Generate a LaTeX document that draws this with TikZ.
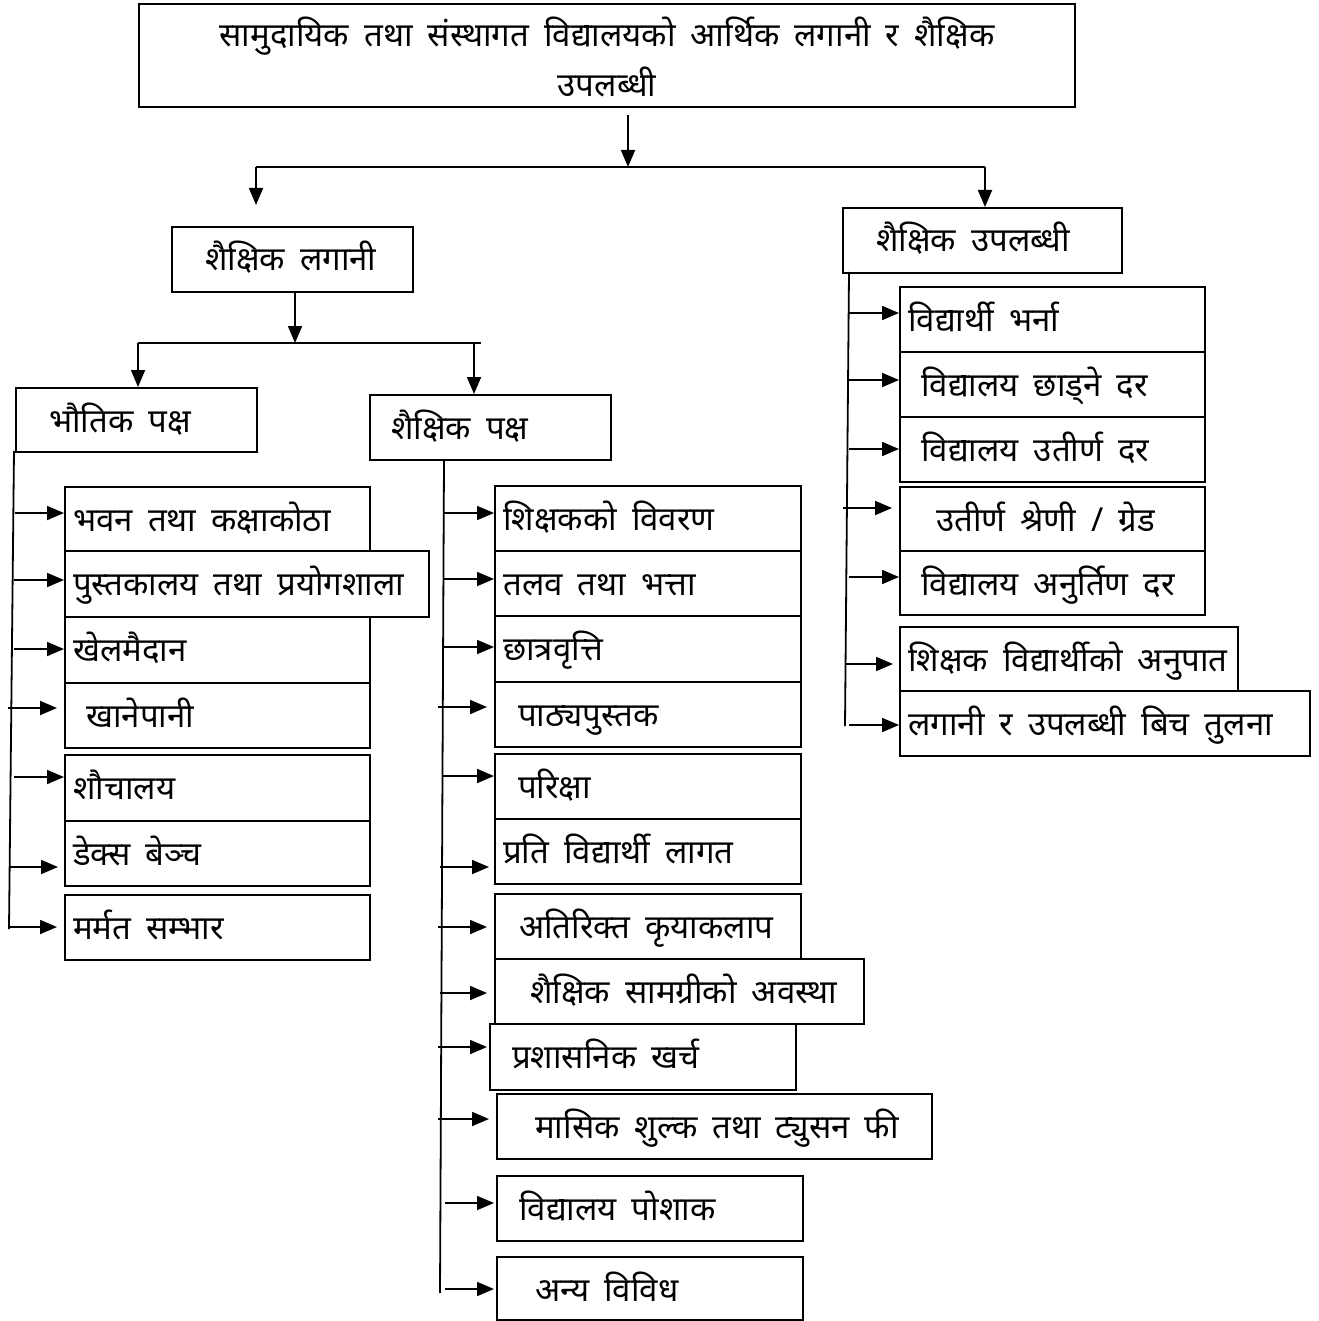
\documentclass[tikz,border=0pt]{standalone}
\usepackage{fontspec}
\usetikzlibrary{arrows.meta}
\newfontfamily\dev[Script=Devanagari]{Noto Sans}
\newcommand\devfont{\dev\fontsize{33}{38}\selectfont\spaceskip=15pt\relax}
\newcommand\bx[7]{%
  \node[bxs, minimum width={(#4-#2)*1pt}, minimum height={(#5-#3)*1pt}] (#1) at (#2,#3) {};
  \node[txt] (#1t) at (#2+#6,#3+45) {#7};}
\begin{document}
\begin{tikzpicture}[x=1pt,y=-1pt,
  bxs/.style={draw, line width=1.8pt, anchor=north west, inner sep=0pt},
  txt/.style={anchor=base west, inner sep=0pt, font=\devfont},
  ln/.style={line width=1.8pt},
  arr/.style={line width=1.8pt, -{Triangle[length=17pt,width=14pt]}}]
\useasboundingbox (0,0) rectangle (1318,1321);
% top
\node[bxs, minimum width=936pt, minimum height=103pt] (top) at (138,3) {};
\node[txt, anchor=base] (topa) at (607,47) {सामुदायिक तथा संस्थागत विद्यालयको आर्थिक लगानी र शैक्षिक};
\node[txt, anchor=base] (topb) at (607,97) {उपलब्धी};
\coordinate (j0) at (628,167);
\coordinate (jl) at (256,167);
\coordinate (jr) at (985,167);
\coordinate (jle) at (256,205);
\draw[arr] (top.south -| j0) ++(0,7) -- (j0);
\draw[ln] (jl) -- (jr);
\draw[arr] (jl) -- (jle);
% level 2
\bx{lag}{171}{226}{412}{291}{34}{शैक्षिक लगानी}
\bx{upl}{842}{207}{1121}{272}{34}{शैक्षिक उपलब्धी}
\draw[arr] (jr) -- (upl.north -| jr);
\coordinate (k0) at (295,343);
\coordinate (kl) at (138,343);
\coordinate (kr) at (481,343);
\coordinate (km) at (474,343);
\draw[arr] (lag.south -| k0) -- (k0);
\draw[ln] (kl) -- (kr);
% level 3
\bx{bho}{15}{387}{256}{451}{34}{भौतिक पक्ष}
\bx{shk}{369}{394}{610}{459}{22}{शैक्षिक पक्ष}
\draw[arr] (kl) -- (bho.north -| kl);
\draw[arr] (km) -- (shk.north -| km);
% left column
\bx{a1}{64}{486}{369}{550}{9}{भवन तथा कक्षाकोठा}
\bx{a2}{64}{550}{428}{616}{9}{पुस्तकालय तथा प्रयोगशाला}
\bx{a3}{64}{616}{369}{682}{9}{खेलमैदान}
\bx{a4}{64}{682}{369}{747}{22}{खानेपानी}
\bx{a5}{64}{754}{369}{820}{9}{शौचालय}
\bx{a6}{64}{820}{369}{885}{9}{डेक्स बेञ्च}
\bx{a7}{64}{894}{369}{959}{9}{मर्मत सम्भार}
\coordinate (lt) at (14,451);
\coordinate (lb) at (9,929);
\draw[ln] (lt) -- (lb);
\coordinate (la1) at (15,513);
\coordinate (la2) at (14,580);
\coordinate (la3) at (14,649);
\coordinate (la4) at (8,708);
\coordinate (la5) at (14,777);
\coordinate (la6) at (10,867);
\coordinate (la7) at (8,927);
\draw[arr] (la1) -- (a1.west |- la1);
\draw[arr] (la2) -- (a2.west |- la2);
\draw[arr] (la3) -- (a3.west |- la3);
\draw[arr, shorten >=7pt] (la4) -- (a4.west |- la4);
\draw[arr] (la5) -- (a5.west |- la5);
\draw[arr, shorten >=6pt] (la6) -- (a6.west |- la6);
\draw[arr, shorten >=7pt] (la7) -- (a7.west |- la7);
% middle column
\bx{b1}{494}{485}{800}{550}{9}{शिक्षकको विवरण}
\bx{b2}{494}{550}{800}{615}{9}{तलव तथा भत्ता}
\bx{b3}{494}{615}{800}{681}{9}{छात्रवृत्ति}
\bx{b4}{494}{681}{800}{746}{24}{पाठ्यपुस्तक}
\bx{b5}{494}{753}{800}{818}{24}{परिक्षा}
\bx{b6}{494}{818}{800}{883}{9}{प्रति विद्यार्थी लागत}
\bx{b7}{494}{893}{800}{958}{25}{अतिरिक्त कृयाकलाप}
\bx{b8}{494}{958}{863}{1023}{36}{शैक्षिक सामग्रीको अवस्था}
\bx{b9}{489}{1023}{795}{1089}{23}{प्रशासनिक खर्च}
\bx{b10}{496}{1093}{931}{1158}{39}{मासिक शुल्क तथा ट्युसन फी}
\bx{b11}{496}{1175}{802}{1240}{23}{विद्यालय पोशाक}
\bx{b12}{496}{1256}{802}{1319}{39}{अन्य विविध}
\coordinate (mt) at (444,459);
\coordinate (mb) at (440,1293);
\draw[ln] (mt) -- (mb);
\coordinate (mb1) at (444,513);
\coordinate (mb2) at (444,579);
\coordinate (mb3) at (444,647);
\coordinate (mb4) at (438,707);
\coordinate (mb5) at (443,776);
\coordinate (mb6) at (440,867);
\coordinate (mb7) at (438,927);
\coordinate (mb8) at (440,993);
\coordinate (mb9) at (438,1047);
\coordinate (mb10) at (438,1119);
\coordinate (mb11) at (445,1203);
\coordinate (mb12) at (445,1289);
\draw[arr] (mb1) -- (b1.west |- mb1);
\draw[arr] (mb2) -- (b2.west |- mb2);
\draw[arr] (mb3) -- (b3.west |- mb3);
\draw[arr, shorten >=7pt] (mb4) -- (b4.west |- mb4);
\draw[arr] (mb5) -- (b5.west |- mb5);
\draw[arr, shorten >=5pt] (mb6) -- (b6.west |- mb6);
\draw[arr, shorten >=7pt] (mb7) -- (b7.west |- mb7);
\draw[arr, shorten >=7pt] (mb8) -- (b8.west |- mb8);
\draw[arr, shorten >=2pt] (mb9) -- (b9.west |- mb9);
\draw[arr, shorten >=7pt] (mb10) -- (b10.west |- mb10);
\draw[arr, shorten >=2pt] (mb11) -- (b11.west |- mb11);
\draw[arr, shorten >=2pt] (mb12) -- (b12.west |- mb12);
% right column
\bx{c1}{899}{286}{1204}{351}{9}{विद्यार्थी भर्ना}
\bx{c2}{899}{351}{1204}{416}{22}{विद्यालय छाड्ने दर}
\bx{c3}{899}{416}{1204}{481}{22}{विद्यालय उतीर्ण दर}
\bx{c4}{899}{486}{1204}{550}{37}{उतीर्ण श्रेणी / ग्रेड}
\bx{c5}{899}{550}{1204}{614}{22}{विद्यालय अनुर्तिण दर}
\bx{c6}{899}{626}{1237}{690}{9}{शिक्षक विद्यार्थीको अनुपात}
\bx{c7}{899}{690}{1309}{755}{9}{लगानी र उपलब्धी बिच तुलना}
\coordinate (rt) at (849,272);
\coordinate (rb) at (845,726);
\draw[ln] (rt) -- (rb);
\coordinate (rc1) at (849,313);
\coordinate (rc2) at (849,380);
\coordinate (rc3) at (849,449);
\coordinate (rc4) at (843,508);
\coordinate (rc5) at (849,577);
\coordinate (rc6) at (845,664);
\coordinate (rc7) at (849,725);
\draw[arr] (rc1) -- (c1.west |- rc1);
\draw[arr] (rc2) -- (c2.west |- rc2);
\draw[arr] (rc3) -- (c3.west |- rc3);
\draw[arr, shorten >=7pt] (rc4) -- (c4.west |- rc4);
\draw[arr] (rc5) -- (c5.west |- rc5);
\draw[arr, shorten >=6pt] (rc6) -- (c6.west |- rc6);
\draw[arr] (rc7) -- (c7.west |- rc7);
\end{tikzpicture}
\end{document}
